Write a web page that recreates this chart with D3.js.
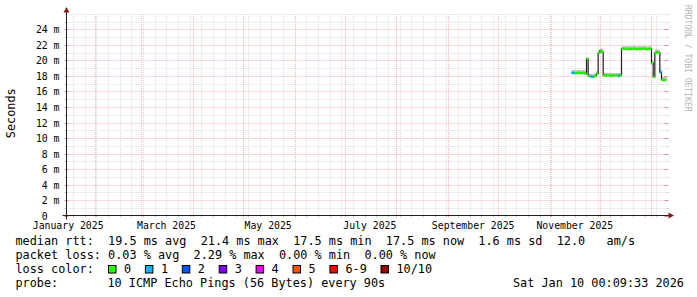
<!DOCTYPE html>
<html>
<head>
<meta charset="utf-8">
<script src="https://cdn.jsdelivr.net/npm/d3@7"></script>
<style>
  body { margin: 0; background: #fff; }
  text { font-family: "DejaVu Sans Mono", monospace; white-space: pre; }
</style>
</head>
<body>
<div id="chart"></div>
<script>
// Smokeping style RTT graph, last year, one sample per day (values in ms)
var days = [
  "2025-11-14","2025-11-15","2025-11-16","2025-11-17","2025-11-18","2025-11-19","2025-11-20",
  "2025-11-21","2025-11-22","2025-11-23","2025-11-24","2025-11-25","2025-11-26","2025-11-27",
  "2025-11-28","2025-11-29","2025-11-30","2025-12-01","2025-12-02","2025-12-03","2025-12-04",
  "2025-12-05","2025-12-06","2025-12-07","2025-12-08","2025-12-09","2025-12-10","2025-12-11",
  "2025-12-12","2025-12-13","2025-12-14","2025-12-15","2025-12-16","2025-12-17","2025-12-18",
  "2025-12-19","2025-12-20","2025-12-21","2025-12-22","2025-12-23","2025-12-24","2025-12-25",
  "2025-12-26","2025-12-27","2025-12-28","2025-12-29","2025-12-30","2025-12-31","2026-01-01",
  "2026-01-02","2026-01-03","2026-01-04","2026-01-05","2026-01-06","2026-01-07","2026-01-08",
  "2026-01-09"
];
var median = [
  18.4, 18.4, 18.35, 18.4, 18.4, 18.35, 18.4,
  18.4, 18.3, 20.2, 18.0, 17.95, 17.9, 17.95,
  18.0, 18.3, 21.0, 21.25, 21.1, 18.1, 18.05,
  18.1, 18.1, 18.0, 18.1, 18.05, 18.1, 18.1,
  18.0, 18.1, 21.5, 21.55, 21.5, 21.5, 21.45,
  21.5, 21.5, 21.55, 21.5, 21.45, 21.5, 21.5,
  21.5, 21.55, 21.5, 21.45, 21.5, 21.5, 19.7,
  17.9, 21.0, 21.05, 21.0, 18.5, 17.5, 17.45,
  17.5
];
var smokeLo = [
  18.3, 18.3, 18.25, 18.3, 18.3, 18.25, 18.3,
  18.3, 18.2, 20.0, 17.9, 17.85, 17.8, 17.85,
  17.9, 18.2, 20.9, 21.1, 21.0, 18.0, 17.95,
  18.0, 18.0, 17.9, 18.0, 17.95, 18.0, 18.0,
  17.9, 18.0, 21.4, 21.45, 21.4, 21.4, 21.35,
  21.4, 21.4, 21.45, 21.4, 21.35, 21.4, 21.4,
  21.4, 21.45, 21.4, 21.35, 21.4, 21.4, 19.5,
  17.8, 20.9, 20.95, 20.9, 18.3, 17.4, 17.35,
  17.4
];
var smokeHi = [
  18.75, 18.8, 18.75, 18.75, 18.8, 18.75, 18.75,
  18.8, 18.65, 20.45, 18.3, 18.25, 18.2, 18.25,
  18.3, 18.65, 21.35, 21.55, 21.5, 18.4, 18.35,
  18.4, 18.4, 18.35, 18.4, 18.35, 18.4, 18.4,
  18.35, 18.4, 21.85, 21.85, 21.8, 21.85, 21.8,
  21.85, 21.85, 21.9, 21.85, 21.8, 21.85, 21.85,
  21.85, 21.9, 21.85, 21.8, 21.85, 21.85, 20.05,
  18.25, 21.4, 21.45, 21.35, 18.85, 17.9, 17.85,
  17.9
];
var lossCount = [
  1, 1, 0, 0, 0, 0, 0,
  0, 0, 0, 0, 1, 1, 0,
  0, 0, 0, 0, 0, 0, 0,
  0, 0, 0, 0, 0, 0, 0,
  1, 0, 0, 0, 0, 0, 0,
  0, 0, 0, 0, 0, 0, 0,
  0, 0, 0, 0, 0, 0, 0,
  0, 0, 0, 0, 1, 0, 0,
  0
];

var startTime = "2025-01-15T00:09:33Z";
var endTime = "2026-01-10T00:09:33Z";

var yTicks = [0, 2, 4, 6, 8, 10, 12, 14, 16, 18, 20, 22, 24];
var yTickLabels = ["0", "2 m", "4 m", "6 m", "8 m", "10 m", "12 m", "14 m", "16 m", "18 m", "20 m", "22 m", "24 m"];
var yMinor = [1, 3, 5, 7, 9, 11, 13, 15, 17, 19, 21, 23, 25, 26];

var monthLabelDates = ["2025-01-16", "2025-03-16", "2025-05-16", "2025-07-16", "2025-09-16", "2025-11-16"];
var monthLabels = ["January 2025", "March 2025", "May 2025", "July 2025", "September 2025", "November 2025"];

var lossLabels = ["0", "1", "2", "3", "4", "5", "6-9", "10/10"];
var lossColors = ["#26ff00", "#00b8ff", "#0059ff", "#7e00ff", "#ff00ff", "#ff5500", "#ff0000", "#a10000"];

var rttStats = ["19.5 ms avg", "21.4 ms max", "17.5 ms min", "17.5 ms now", "1.6 ms sd", "12.0   am/s"];
var lossStats = ["0.03 % avg", "2.29 % max", "0.00 % min", "0.00 % now"];
var probeText = "10 ICMP Echo Pings (56 Bytes) every 90s";
var stampText = "Sat Jan 10 00:09:33 2026";

// Chart set-up
var svgWidth = 697, svgHeight = 297;
var x0 = 66.5, x1 = 666.5, yBottom = 215.5;
var fontSize = 11.83;
var minorCol = "#dcdcdc", majorCol = "#f2b6b6";

var svg = d3.select("#chart").append("svg")
  .attr("width", svgWidth)
  .attr("height", svgHeight);

svg.append("rect").attr("width", svgWidth).attr("height", svgHeight).attr("fill", "#fff");

var parse = d3.utcParse("%Y-%m-%d");
var t0 = new Date(startTime), t1 = new Date(endTime);

var xScale = d3.scaleUtc().domain([t0, t1]).range([x0, x1]);
var yScale = d3.scaleLinear().domain([0, 26]).range([yBottom, yBottom - 26 * 7.75]);
var yTop = yScale(26);

var grid = svg.append("g");

// vertical minor grid, weekly
d3.utcSunday.range(t0, t1).forEach(function(d) {
  var x = Math.round(xScale(d)) + 0.5;
  grid.append("line").attr("x1", x).attr("x2", x).attr("y1", yTop).attr("y2", yBottom)
    .attr("stroke", minorCol).attr("stroke-dasharray", "1,1");
  grid.append("line").attr("x1", x).attr("x2", x).attr("y1", yBottom).attr("y2", yBottom + 2)
    .attr("stroke", "#c8c8c8");
});

// vertical major grid, monthly
d3.utcMonth.range(t0, t1).forEach(function(d) {
  var x = Math.round(xScale(d)) + 0.5;
  grid.append("line").attr("x1", x).attr("x2", x).attr("y1", yTop).attr("y2", yBottom + 3)
    .attr("stroke", majorCol).attr("stroke-dasharray", "1,1");
});

// horizontal minor grid
yMinor.forEach(function(v) {
  var y = Math.round(yScale(v)) + 0.5;
  grid.append("line").attr("x1", x0).attr("x2", x1).attr("y1", y).attr("y2", y)
    .attr("stroke", minorCol).attr("stroke-dasharray", "1,1");
  grid.append("line").attr("x1", x0 - 2).attr("x2", x0).attr("y1", y).attr("y2", y).attr("stroke", "#c8c8c8");
  grid.append("line").attr("x1", x1).attr("x2", x1 + 2).attr("y1", y).attr("y2", y).attr("stroke", "#c8c8c8");
});

// horizontal major grid + labels
yTicks.forEach(function(v, i) {
  var y = Math.round(yScale(v)) + 0.5;
  if (v > 0) {
    grid.append("line").attr("x1", x0).attr("x2", x1).attr("y1", y).attr("y2", y)
      .attr("stroke", majorCol).attr("stroke-dasharray", "1,1");
  }
  grid.append("line").attr("x1", x0 - 2).attr("x2", x0 + 2).attr("y1", y).attr("y2", y).attr("stroke", "#d89090");
  grid.append("line").attr("x1", x1 - 2).attr("x2", x1 + 2).attr("y1", y).attr("y2", y).attr("stroke", "#d89090");
  svg.append("text")
    .attr("x", v === 0 ? 47.7 : 59.5).attr("y", y).attr("dy", "0.36em")
    .attr("text-anchor", "end")
    .attr("font-size", "9.8px")
    .text(yTickLabels[i]);
});

// month labels
monthLabelDates.forEach(function(d, i) {
  svg.append("text")
    .attr("x", xScale(parse(d))).attr("y", 228.5)
    .attr("text-anchor", "middle")
    .attr("font-size", "9.8px")
    .text(monthLabels[i]);
});

// build per-day records
var data = days.map(function(d, i) {
  var start = parse(d);
  return { t: start, t2: d3.utcDay.offset(start, 1), med: median[i], lo: smokeLo[i], hi: smokeHi[i], loss: lossCount[i] };
});
var last = data[data.length - 1];
var stepData = data.concat([{ t: last.t2, med: last.med, lo: last.lo, hi: last.hi }]);

// smoke
var smoke = d3.area()
  .x(function(d) { return xScale(d.t); })
  .y0(function(d) { return yScale(d.lo); })
  .y1(function(d) { return yScale(d.hi); })
  .curve(d3.curveStepAfter);
svg.append("path").datum(stepData).attr("d", smoke).attr("fill", "#bdbdbd");

// median line
var medLine = d3.line()
  .x(function(d) { return xScale(d.t); })
  .y(function(d) { return yScale(d.med); })
  .curve(d3.curveStepAfter);
svg.append("path").datum(stepData).attr("d", medLine)
  .attr("fill", "none").attr("stroke", "#202020").attr("stroke-width", 1.2);

// loss colored median segments
svg.append("g").selectAll("line")
  .data(data)
  .enter()
  .append("line")
  .attr("x1", function(d) { return xScale(d.t); })
  .attr("x2", function(d) { return xScale(d.t2); })
  .attr("y1", function(d) { return yScale(d.med); })
  .attr("y2", function(d) { return yScale(d.med); })
  .attr("stroke", function(d) { return lossColors[d.loss]; })
  .attr("stroke-width", 2.5);

// axes
var axisCol = "#1f1f1f", arrowCol = "#7f1f1f";
svg.append("line").attr("x1", x0 - 4).attr("x2", x1 + 4).attr("y1", yBottom).attr("y2", yBottom).attr("stroke", axisCol);
svg.append("line").attr("x1", x0).attr("x2", x0).attr("y1", yBottom + 4).attr("y2", yTop - 4).attr("stroke", axisCol);
svg.append("path")
  .attr("d", "M" + (x1 + 2) + "," + (yBottom - 3) + "L" + (x1 + 2) + "," + (yBottom + 3) + "L" + (x1 + 7.5) + "," + yBottom + "Z")
  .attr("fill", arrowCol);
svg.append("path")
  .attr("d", "M" + (x0 - 3) + "," + (yTop - 1.5) + "L" + (x0 + 3) + "," + (yTop - 1.5) + "L" + x0 + "," + (yTop - 7) + "Z")
  .attr("fill", arrowCol);

// y axis title
svg.append("text")
  .attr("transform", "translate(15,113.3) rotate(-90)")
  .attr("text-anchor", "middle")
  .attr("font-size", fontSize + "px")
  .text("Seconds");

// watermark
svg.append("text")
  .attr("transform", "translate(685,5) rotate(90)")
  .attr("font-size", "8.05px")
  .attr("fill", "#b4b4b4")
  .text("RRDTOOL / TOBI OETIKER");

// legend
var legend = svg.append("g").attr("font-size", fontSize + "px");
legend.append("text").attr("x", 15.5).attr("y", 245)
  .text("median rtt:  " + rttStats.join("  "));
legend.append("text").attr("x", 15.5).attr("y", 259.3)
  .text("packet loss: " + lossStats.join("  "));
legend.append("text").attr("x", 15.5).attr("y", 273.3).text("loss color:");
legend.append("text").attr("x", 15.5).attr("y", 287.3).text("probe:");
legend.append("text").attr("x", 107.5).attr("y", 287.3).text(probeText);
legend.append("text").attr("x", 513).attr("y", 287.3).text(stampText);

var bx = 108.5;
lossLabels.forEach(function(lab, i) {
  legend.append("rect")
    .attr("x", bx).attr("y", 265.5).attr("width", 7.5).attr("height", 7.5)
    .attr("fill", lossColors[i]).attr("stroke", "#000").attr("stroke-width", 1);
  legend.append("text").attr("x", bx + 15.5).attr("y", 273.3).text(lab);
  bx += 36.9 + (lab.length - 1) * 7.1;
});
</script>
</body>
</html>
